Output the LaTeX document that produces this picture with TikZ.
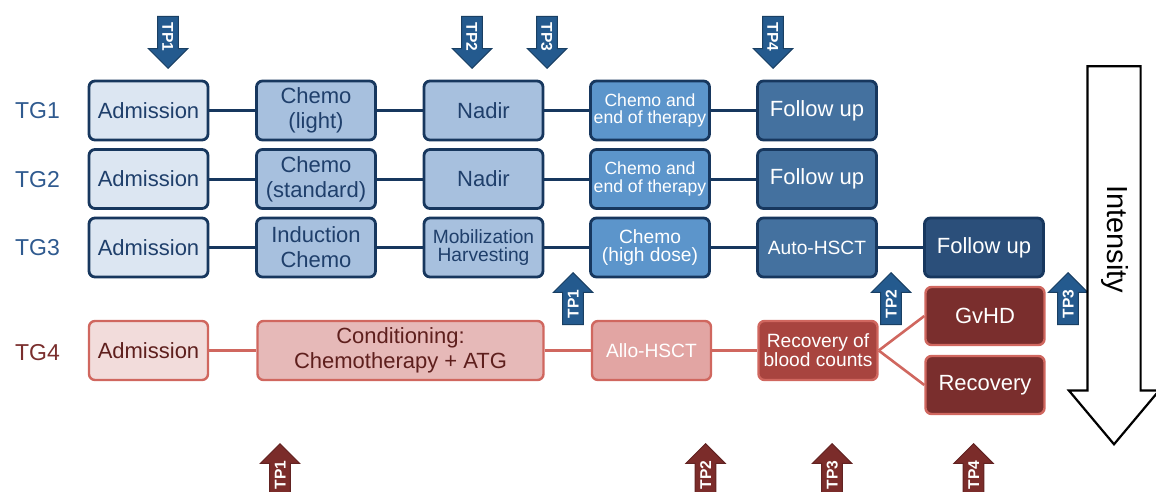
\documentclass[tikz,border=0pt]{standalone}
\usepackage{fontspec}
\setmainfont{Liberation Sans}
\usetikzlibrary{shapes.arrows}

\definecolor{navy}{HTML}{17375E}
\definecolor{tgblue}{HTML}{2F5A8F}
\definecolor{txtblue}{HTML}{1F3F6B}
\definecolor{fillA}{HTML}{DCE6F2}
\definecolor{fillB}{HTML}{A7C0DE}
\definecolor{fillC}{HTML}{5C95CB}
\definecolor{fillD}{HTML}{44719F}
\definecolor{fillE}{HTML}{2B4F7A}
\definecolor{tpblue}{HTML}{245A8E}
\definecolor{redline}{HTML}{D0675F}
\definecolor{redA}{HTML}{F2DCDB}
\definecolor{redB}{HTML}{E6B9B8}
\definecolor{redC}{HTML}{E2A5A3}
\definecolor{redD}{HTML}{A8443F}
\definecolor{redE}{HTML}{7A2E2D}
\definecolor{txtred}{HTML}{5E1F1D}
\definecolor{tpred}{HTML}{7B2C2A}

\tikzset{
  stage/.style={draw=navy, line width=1.4pt, rounded corners=3pt, minimum width=59.5pt, minimum height=29.5pt, align=center, inner sep=1pt, text=txtblue},
  bigtxt/.style={font=\fontsize{11}{12.5}\selectfont},
  midtxt/.style={font=\fontsize{9.6}{9.4}\selectfont},
  smalltxt/.style={font=\fontsize{8.8}{8.6}\selectfont},
  redstage/.style={stage, draw=redline, line width=1.2pt, text=txtred},
  link/.style={navy, line width=1.5pt},
  redlink/.style={redline, line width=1.3pt},
  tglabel/.style={font=\fontsize{11.5}{12}\selectfont, text=tgblue},
  tp/.style={single arrow, anchor=tip, minimum height=26pt, single arrow head extend=4.7pt, inner xsep=0.5pt, inner ysep=2.1pt, text height=5.6pt, text depth=0pt, text=white, line width=0.5pt, font=\fontsize{7.8}{7.8}\selectfont\bfseries},
  tpdown/.style={tp, rotate=-90, fill=tpblue, draw=tpblue!70!black},
  tpup/.style={tp, rotate=90, fill=tpblue, draw=tpblue!70!black},
  tpupred/.style={tp, rotate=90, fill=tpred, draw=tpred!80!black}
}

\begin{document}
\begin{tikzpicture}[x=0.5pt, y=-0.5pt]
\useasboundingbox (0,0) rectangle (1156,492);

% group labels
\node[tglabel] (tg1) at (37.5,111) {TG1};
\node[tglabel] (tg2) at (37.5,180) {TG2};
\node[tglabel] (tg3) at (37.5,248) {TG3};
\node[tglabel, text=redE] (tg4) at (37.5,353) {TG4};

% TG1
\node[stage, bigtxt, fill=fillA] (adm1) at (148.5,110.5) {Admission};
\node[stage, bigtxt, fill=fillB] (chemo1) at (316,110.5) {Chemo\\(light)};
\node[stage, bigtxt, fill=fillB] (nadir1) at (483.5,110.5) {Nadir};
\node[stage, smalltxt, fill=fillC, text=white] (end1) at (650,110.5) {Chemo and\\end of therapy};
\node[stage, bigtxt, fill=fillD, text=white] (fol1) at (817,110.5) {Follow up};
\draw[link] (adm1) -- (chemo1);
\draw[link] (chemo1) -- (nadir1);
\draw[link] (nadir1) -- (end1);
\draw[link] (end1) -- (fol1);

% TG2
\node[stage, bigtxt, fill=fillA] (adm2) at (148.5,179) {Admission};
\node[stage, bigtxt, fill=fillB] (chemo2) at (316,179) {Chemo\\(standard)};
\node[stage, bigtxt, fill=fillB] (nadir2) at (483.5,179) {Nadir};
\node[stage, smalltxt, fill=fillC, text=white] (end2) at (650,179) {Chemo and\\end of therapy};
\node[stage, bigtxt, fill=fillD, text=white] (fol2) at (817,179) {Follow up};
\draw[link] (adm2) -- (chemo2);
\draw[link] (chemo2) -- (nadir2);
\draw[link] (nadir2) -- (end2);
\draw[link] (end2) -- (fol2);

% TG3
\node[stage, bigtxt, fill=fillA] (adm3) at (148.5,247.5) {Admission};
\node[stage, bigtxt, fill=fillB] (ind3) at (316,247.5) {Induction\\Chemo};
\node[stage, midtxt, fill=fillB] (mob3) at (483.5,247.5) {Mobilization\\Harvesting};
\node[stage, midtxt, fill=fillC, text=white] (high3) at (650,247.5) {Chemo\\(high dose)};
\node[stage, midtxt, fill=fillD, text=white] (auto3) at (817,247.5) {Auto-HSCT};
\node[stage, bigtxt, fill=fillE, text=white] (fol3) at (984,247.5) {Follow up};
\draw[link] (adm3) -- (ind3);
\draw[link] (ind3) -- (mob3);
\draw[link] (mob3) -- (high3);
\draw[link] (high3) -- (auto3);
\draw[link] (auto3) -- (fol3);

% TG4
\node[redstage, bigtxt, fill=redA] (adm4) at (148.5,350.5) {Admission};
\node[redstage, bigtxt, fill=redB, minimum width=143pt] (cond4) at (400.5,350.5) {Conditioning:\\Chemotherapy + ATG};
\node[redstage, midtxt, fill=redC, text=white] (allo4) at (651.5,350.5) {Allo-HSCT};
\node[redstage, midtxt, fill=redD, text=white] (rec4) at (818,350.5) {Recovery of\\blood counts};
\node[redstage, bigtxt, fill=redE, text=white, minimum height=29pt] (gvhd4) at (985,316) {GvHD};
\node[redstage, bigtxt, fill=redE, text=white, minimum height=29pt] (recov4) at (985,385) {Recovery};
\draw[redlink] (adm4) -- (cond4);
\draw[redlink] (cond4) -- (allo4);
\draw[redlink] (allo4) -- (rec4);
\draw[redlink] (rec4.east) -- (gvhd4.west);
\draw[redlink] (rec4.east) -- (recov4.west);

% time points TG1/TG2
\node[tpdown] (top1) at (168,69) {TP1};
\node[tpdown] (top2) at (472,69) {TP2};
\node[tpdown] (top3) at (547,69) {TP3};
\node[tpdown] (top4) at (773,69) {TP4};

% time points TG3
\node[tpup] (mid1) at (573,272) {TP1};
\node[tpup] (mid2) at (891,272) {TP2};
\node[tpup] (mid3) at (1068,272) {TP3};

% time points TG4
\node[tpupred] (bot1) at (280,443) {TP1};
\node[tpupred] (bot2) at (705.5,443) {TP2};
\node[tpupred] (bot3) at (832,443) {TP3};
\node[tpupred] (bot4) at (973.5,443) {TP4};

% intensity
\node[single arrow, rotate=-90, anchor=tip, draw=black, line width=1.1pt, fill=white, minimum height=189pt, single arrow head extend=9.25pt, single arrow tip angle=80, inner ysep=6.25pt, text height=10pt, text depth=3pt, font=\fontsize{14.5}{14.5}\selectfont] (intens) at (1114,446) {Intensity};
\end{tikzpicture}
\end{document}
